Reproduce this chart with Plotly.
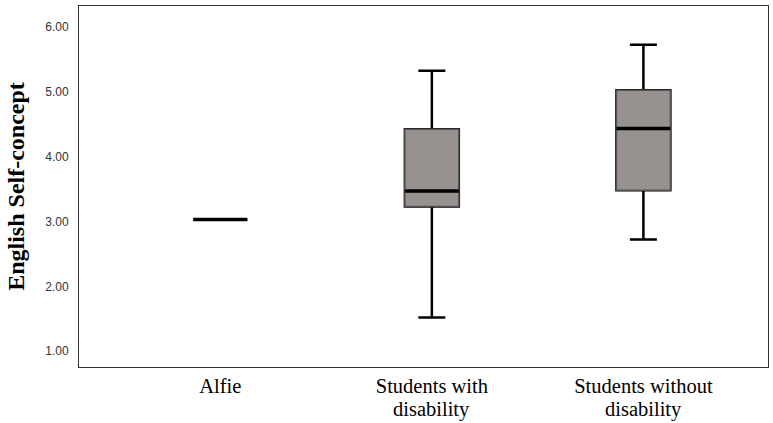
import plotly.graph_objects as go

category_line1 = ["Alfie", "Students with", "Students without"]
category_line2 = ["", "disability", "disability"]
positions = [0, 1, 2]
lower_whisker = [3.03, 1.52, 2.72]
q1_values = [3.03, 3.23, 3.48]
medians = [3.03, 3.47, 4.43]
q3_values = [3.03, 4.42, 5.02]
upper_whisker = [3.03, 5.32, 5.72]
y_ticks = [1, 2, 3, 4, 5, 6]
y_tick_labels = ["1.00", "2.00", "3.00", "4.00", "5.00", "6.00"]

BOX_W = 0.255
FILL = "#97928f"
XFONT = dict(family="Liberation Serif", size=20.5, color="black")

fig = go.Figure()
# whiskers (black)
fig.add_trace(go.Box(
    x=positions, q1=q1_values, median=medians, q3=q3_values,
    lowerfence=lower_whisker, upperfence=upper_whisker,
    width=BOX_W, whiskerwidth=0.5, fillcolor=FILL,
    line=dict(color="black", width=2.5), boxpoints=False, hoverinfo="skip",
    showlegend=False,
))
# box body with gray outline on top
fig.add_trace(go.Box(
    x=positions, q1=q1_values, median=medians, q3=q3_values,
    lowerfence=q1_values, upperfence=q3_values,
    width=BOX_W, whiskerwidth=0.5, fillcolor=FILL,
    line=dict(color="#555555", width=1.5), boxpoints=False, hoverinfo="skip",
    showlegend=False,
))
# thick medians
for p, m in zip(positions, medians):
    fig.add_trace(go.Scatter(
        x=[p - BOX_W / 2, p + BOX_W / 2], y=[m, m], mode="lines",
        line=dict(color="black", width=3.5), showlegend=False, hoverinfo="skip",
    ))

# second line of the category labels (tighter line spacing than <br>)
for p, t in zip(positions, category_line2):
    if t:
        fig.add_annotation(x=p, xref="x", y=-0.1535, yref="paper", yanchor="bottom",
                           text=t, showarrow=False, font=XFONT, borderpad=0)

fig.update_layout(
    width=773, height=423,
    margin=dict(l=79, r=5, t=6, b=56),
    paper_bgcolor="white", plot_bgcolor="white",
    boxmode="overlay", showlegend=False,
)
fig.update_xaxes(
    range=[-0.668, 2.589], tickvals=positions, ticktext=category_line1,
    showgrid=False, zeroline=False, showline=True, mirror=True,
    linecolor="#333333", linewidth=1, ticks="", automargin=False,
    tickfont=XFONT,
    ticklabelstandoff=0,
)
fig.update_yaxes(
    range=[0.757, 6.318], tickvals=y_ticks, ticktext=y_tick_labels,
    showgrid=False, zeroline=False, showline=True, mirror=True,
    linecolor="#333333", linewidth=1, ticks="", automargin=False,
    tickfont=dict(family="Liberation Sans", size=12, color="#333333"),
    ticklabelstandoff=7,
    title=dict(text="English Self-concept", standoff=13,
               font=dict(family="Liberation Serif", size=24, color="black", weight="bold")),
)

fig.write_html("out.html")
